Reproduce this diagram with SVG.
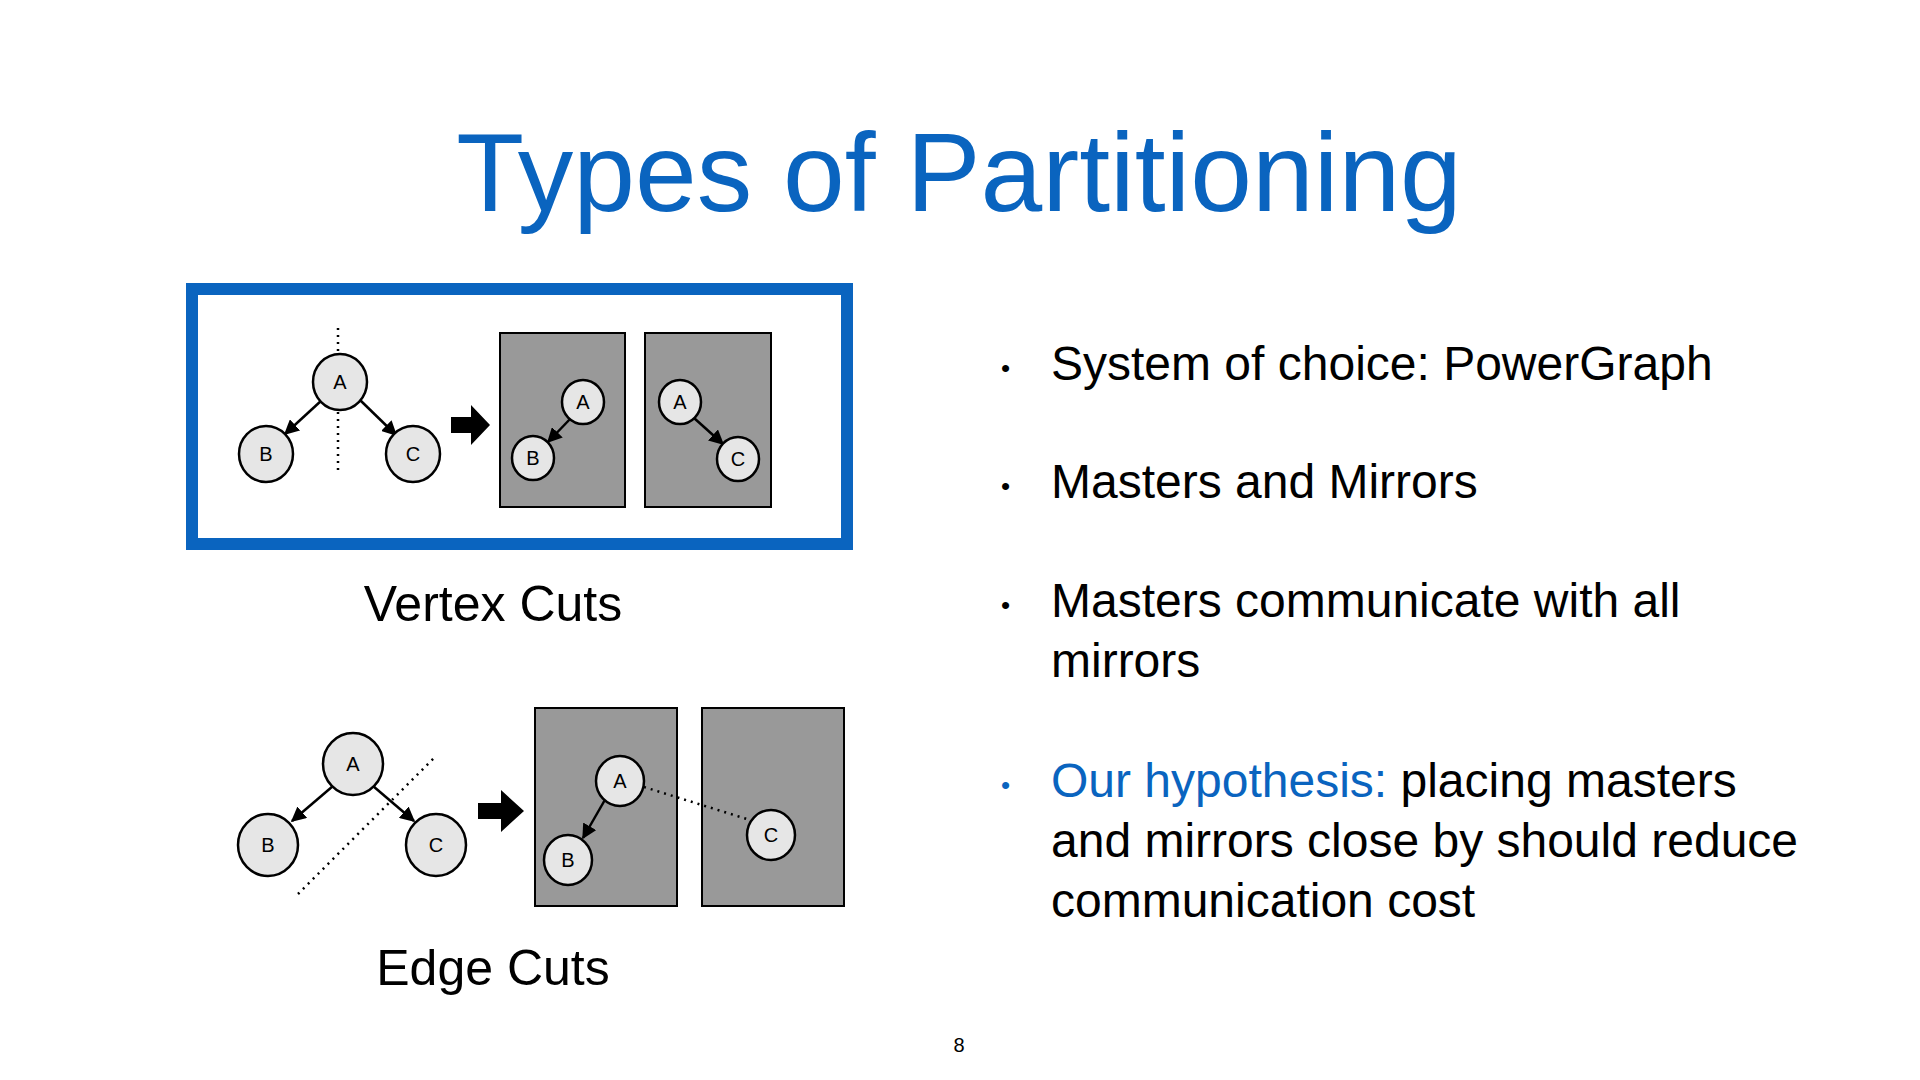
<svg xmlns="http://www.w3.org/2000/svg" width="1920" height="1080" viewBox="0 0 1920 1080">
<style>
text{font-family:"Liberation Sans",Arial,sans-serif}
.n{fill:#e6e6e6;stroke:#000;stroke-width:2.5}
.nl{font-size:20px;text-anchor:middle;fill:#000}
.box{fill:#999;stroke:#000;stroke-width:2}
.e{stroke:#000;stroke-width:2.5;fill:none;marker-end:url(#ah)}
.dot{stroke:#000;stroke-width:2.5;stroke-dasharray:2 5;fill:none}
.b{font-size:48px;fill:#000}
</style>
<defs>
<marker id="ah" viewBox="0 0 10 10" refX="9" refY="5" markerWidth="6" markerHeight="6" orient="auto"><path d="M0,0L10,5L0,10z" fill="#000"/></marker>
</defs>
<rect width="1920" height="1080" fill="#fff"/>
<text x="959" y="211" font-size="111" text-anchor="middle" fill="#0a64bf">Types of Partitioning</text>
<rect x="192" y="289" width="655" height="255" fill="none" stroke="#0a64bf" stroke-width="12"/>
<g id="vbox1"><rect class="box" x="500" y="333" width="125" height="174"/></g>
<g id="vbox2"><rect class="box" x="645" y="333" width="126" height="174"/></g>
<g id="ebox1"><rect class="box" x="535" y="708" width="142" height="198"/></g>
<g id="ebox2"><rect class="box" x="702" y="708" width="142" height="198"/></g>
<g id="connectors">
<line class="e" x1="322" y1="400" x2="285" y2="434"/>
<line class="e" x1="360" y1="400" x2="396" y2="435"/>
<line class="dot" x1="338" y1="328" x2="338" y2="475"/>
<line class="e" x1="571" y1="418" x2="548" y2="442"/>
<line class="e" x1="694" y1="418" x2="723" y2="444"/>
<line class="e" x1="333" y1="786" x2="292" y2="821"/>
<line class="e" x1="373" y1="786" x2="414" y2="821"/>
<line class="dot" x1="298" y1="894" x2="435" y2="757"/>
<line class="e" x1="606" y1="798" x2="583" y2="838"/>
<line class="dot" x1="644" y1="787" x2="750" y2="820"/>
<path d="M451,417h20v-12l19,20l-19,20v-12h-20z" fill="#000"/>
<path d="M478,803h23v-13l23,21l-23,21v-13h-23z" fill="#000"/>
</g>
<g id="vA"><ellipse class="n" cx="340" cy="382" rx="27" ry="28"/><text class="nl" x="340" y="389">A</text></g>
<g id="vB"><ellipse class="n" cx="266" cy="454" rx="27" ry="28"/><text class="nl" x="266" y="461">B</text></g>
<g id="vC"><ellipse class="n" cx="413" cy="454" rx="27" ry="28"/><text class="nl" x="413" y="461">C</text></g>
<g id="v1A"><ellipse class="n" cx="583" cy="402" rx="21" ry="22"/><text class="nl" x="583" y="409">A</text></g>
<g id="v1B"><ellipse class="n" cx="533" cy="458" rx="21" ry="22"/><text class="nl" x="533" y="465">B</text></g>
<g id="v2A"><ellipse class="n" cx="680" cy="402" rx="21" ry="22"/><text class="nl" x="680" y="409">A</text></g>
<g id="v2C"><ellipse class="n" cx="738" cy="459" rx="21" ry="22"/><text class="nl" x="738" y="466">C</text></g>
<g id="eA"><ellipse class="n" cx="353" cy="764" rx="30" ry="31"/><text class="nl" x="353" y="771">A</text></g>
<g id="eB"><ellipse class="n" cx="268" cy="845" rx="30" ry="31"/><text class="nl" x="268" y="852">B</text></g>
<g id="eC"><ellipse class="n" cx="436" cy="845" rx="30" ry="31"/><text class="nl" x="436" y="852">C</text></g>
<g id="e1A"><ellipse class="n" cx="620" cy="781" rx="24" ry="25"/><text class="nl" x="620" y="788">A</text></g>
<g id="e1B"><ellipse class="n" cx="568" cy="860" rx="24" ry="25"/><text class="nl" x="568" y="867">B</text></g>
<g id="e2C"><ellipse class="n" cx="771" cy="835" rx="24" ry="25"/><text class="nl" x="771" y="842">C</text></g>
<text x="493" y="621" font-size="50" text-anchor="middle">Vertex Cuts</text>
<text x="493" y="985" font-size="50" text-anchor="middle">Edge Cuts</text>
<g font-size="26">
<text x="1001" y="377">•</text><text x="1001" y="495">•</text><text x="1001" y="614">•</text><text x="1001" y="794" fill="#0a64bf">•</text>
</g>
<text class="b" x="1051" y="380">System of choice: PowerGraph</text>
<text class="b" x="1051" y="498">Masters and Mirrors</text>
<text class="b" x="1051" y="617">Masters communicate with all</text>
<text class="b" x="1051" y="677">mirrors</text>
<text class="b" x="1051" y="797"><tspan fill="#0a64bf">Our hypothesis:</tspan> placing masters</text>
<text class="b" x="1051" y="857">and mirrors close by should reduce</text>
<text class="b" x="1051" y="917">communication cost</text>
<text x="959" y="1052" font-size="20" text-anchor="middle">8</text>
</svg>
